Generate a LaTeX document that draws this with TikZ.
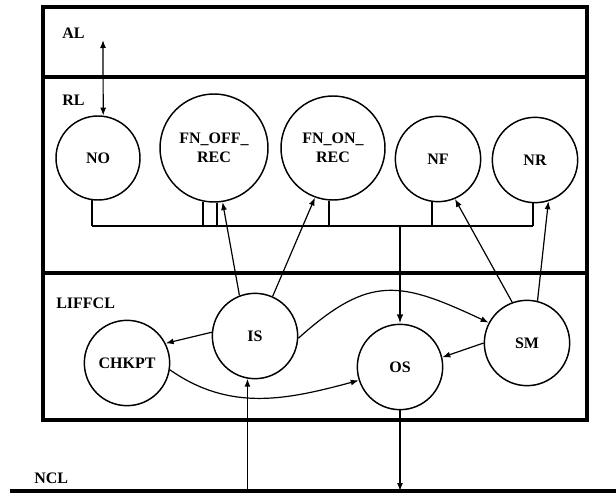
\documentclass[tikz,border=0pt]{standalone}
\usepackage{fontspec}
\setmainfont{Liberation Serif}
\usetikzlibrary{arrows.meta}

\begin{document}
\begin{tikzpicture}[x=0.75pt, y=0.75pt,
  proc/.style={circle, draw, line width=1.1pt, inner sep=0pt,
    minimum size=64pt, align=center,
    font=\fontsize{12}{14}\selectfont\bfseries},
  layer/.style={line width=2.5pt},
  bus/.style={line width=2pt},
  stem/.style={line width=1.6pt},
  arr/.style={-{Latex[length=6pt, width=4.5pt]}, line width=0.9pt},
  dblarr/.style={{Latex[length=6pt, width=4.5pt]}-{Latex[length=6pt, width=4.5pt]},
    line width=0.9pt},
  lbl/.style={anchor=west, inner sep=0pt,
    font=\fontsize{12}{14}\selectfont\bfseries},
]
\useasboundingbox (0,0) rectangle (616,497);
% layers
\draw[layer] (43,77) rectangle (587,490);
\draw[layer] (43,420) -- (587,420);
\draw[layer] (43,224) -- (587,224);
\coordinate (ncl) at (10,6);
\draw[layer] (ncl) -- (616,6);
\node[lbl] (al)     at (62,464) {AL};
\node[lbl] (rl)     at (62,397) {RL};
\node[lbl] (liffcl) at (56,194) {LIFFCL};
\node[lbl] (ncllbl) at (34,19)  {NCL};

% processes
\node[proc, minimum size=63pt] (no)    at (98,339)  {NO};
\node[proc, minimum size=81pt] (fnoff) at (214,349) {FN\_OFF\_\\REC};
\node[proc, minimum size=78pt] (fnon)  at (333,349) {FN\_ON\_\\REC};
\node[proc] (nf)    at (438,338) {NF};
\node[proc] (nr)    at (535,337) {NR};
\node[proc] (is)    at (255,161) {IS};
\node[proc] (chkpt) at (127,134) {CHKPT};
\node[proc] (os)    at (400,130) {OS};
\node[proc] (sm)    at (527,154) {SM};

% bus
\coordinate (busy) at (0,271);
\draw[bus] (no.262 |- busy) -- (nr.267 |- busy);
\foreach \n/\a in {no/262, fnoff/258, fnoff/273, fnon/266, nf/262, nr/267}
  \draw[stem] (\n.\a) -- (\n.\a |- busy);
\draw[bus, -{Latex[length=7pt, width=5pt]}] (os.north |- busy) -- (os.north);

% connectors
\coordinate (alend) at (103,457);
\draw[dblarr] (alend) -- (no.83);
\draw[arr] (is.111) -- (fnoff.279);
\draw[arr] (is.66) -- (fnon.250);
\draw[arr] (sm.110) -- (nf.293);
\draw[arr] (sm.76) -- (nr.288);
\draw[arr] (is.175) -- (chkpt.27);
\draw[arr] (sm.180) -- (os.13);
\draw[arr] (is.-3) to[out=42, in=155, looseness=1.3] (sm.152);
\draw[arr] (chkpt.-9) to[out=-35, in=195] (os.198);
\draw[arr] (is.260 |- ncl) -- (is.260);
\draw[arr] (os.south) -- (os.south |- ncl);
\end{tikzpicture}
\end{document}
